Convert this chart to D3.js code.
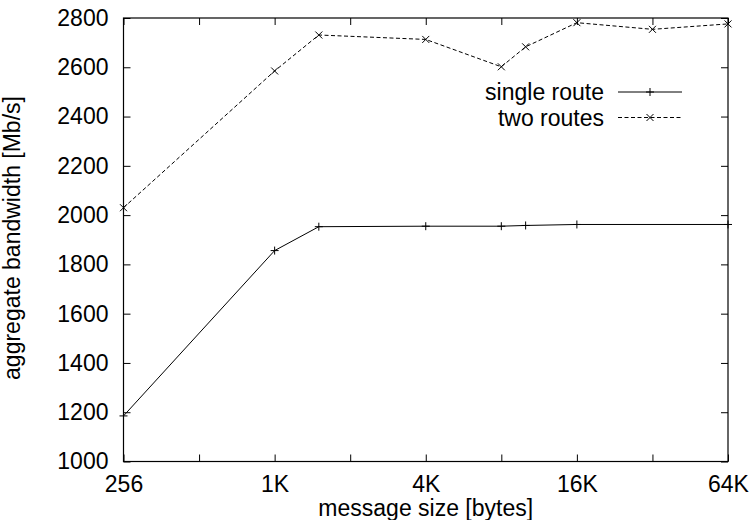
<!DOCTYPE html>
<html>
<head>
<meta charset="utf-8">
<script src="https://cdn.jsdelivr.net/npm/d3@7"></script>
<style>
body { margin: 0; background: #fff; }
text { font-family: "Liberation Sans", Arial, Helvetica, sans-serif; fill: #000; }
</style>
</head>
<body>
<div id="chart"></div>
<script>
// message sizes in bytes, bandwidth in Mb/s
var singleSizes = [256, 1024, 1536, 4096, 8192, 10240, 16384, 65536];
var singleRoute = [1185, 1856, 1953, 1955, 1955, 1958, 1962, 1962];
var twoSizes = [256, 1024, 1536, 4096, 8192, 10240, 16384, 32768, 65536];
var twoRoutes = [2030, 2585, 2731, 2713, 2602, 2683, 2781, 2754, 2776];

var xTicks = [256, 512, 1024, 2048, 4096, 8192, 16384, 32768, 65536];
var xTickLabels = {256: "256", 1024: "1K", 4096: "4K", 16384: "16K", 65536: "64K"};
var yTicks = [1000, 1200, 1400, 1600, 1800, 2000, 2200, 2400, 2600, 2800];

var width = 749, height = 520;
var plotLeft = 123.5, plotRight = 728, plotTop = 18, plotBottom = 461.5;
var fontSize = 23;

var svg = d3.select("#chart").append("svg")
	.attr("width", width)
	.attr("height", height);

var x = d3.scaleLog().base(2).domain([256, 65536]).range([plotLeft, plotRight]);
var y = d3.scaleLinear().domain([1000, 2800]).range([plotBottom, plotTop]);

// axes, ticks pointing inward on all four sides
var xAxis = d3.axisBottom(x).tickValues(xTicks).tickSize(-7).tickPadding(14)
	.tickFormat(function(d) { return xTickLabels[d] || ""; });
var xTop = d3.axisTop(x).tickValues(xTicks).tickSize(-7).tickFormat("");
var yAxis = d3.axisLeft(y).tickValues(yTicks).tickSize(-7).tickPadding(15)
	.tickFormat(d3.format("d"));
var yRight = d3.axisRight(y).tickValues(yTicks).tickSize(-7).tickFormat("");

function styleAxis(g) {
	g.select(".domain").remove();
	g.selectAll(".tick line").attr("stroke", "#000").attr("stroke-width", 1);
	g.selectAll("text").style("font-size", fontSize + "px")
		.style("font-family", "'Liberation Sans', Arial, sans-serif").attr("fill", "#000");
}

svg.append("g").attr("transform", "translate(0," + plotBottom + ")").call(xAxis).call(styleAxis);
svg.append("g").attr("transform", "translate(0," + plotTop + ")").call(xTop).call(styleAxis);
svg.append("g").attr("transform", "translate(" + plotLeft + ",0)").call(yAxis).call(styleAxis);
svg.append("g").attr("transform", "translate(" + plotRight + ",0)").call(yRight).call(styleAxis);

svg.append("rect")
	.attr("x", plotLeft).attr("y", plotTop)
	.attr("width", plotRight - plotLeft).attr("height", plotBottom - plotTop)
	.attr("fill", "none").attr("stroke", "#000").attr("stroke-width", 1.2);

// axis titles
svg.append("text")
	.attr("x", (plotLeft + plotRight) / 2).attr("y", 516)
	.attr("text-anchor", "middle")
	.style("font-size", fontSize + "px")
	.text("message size [bytes]");

svg.append("text")
	.attr("transform", "translate(20,238) rotate(-90)")
	.attr("text-anchor", "middle")
	.style("font-size", fontSize + "px")
	.text("aggregate bandwidth [Mb/s]");

// series
var single = singleSizes.map(function(d, i) { return {x: d, y: singleRoute[i]}; });
var two = twoSizes.map(function(d, i) { return {x: d, y: twoRoutes[i]}; });

var line = d3.line()
	.x(function(d) { return x(d.x); })
	.y(function(d) { return y(d.y); });

svg.append("path").datum(single)
	.attr("d", line)
	.attr("fill", "none").attr("stroke", "#000").attr("stroke-width", 1);

svg.append("path").datum(two)
	.attr("d", line)
	.attr("fill", "none").attr("stroke", "#000").attr("stroke-width", 1)
	.attr("stroke-dasharray", "4,2.5");

function drawPlus(g, px, py) {
	g.append("path")
		.attr("d", "M" + (px - 4) + "," + py + "H" + (px + 4) + "M" + px + "," + (py - 4) + "V" + (py + 4))
		.attr("stroke", "#000").attr("stroke-width", 1).attr("fill", "none");
}
function drawCross(g, px, py) {
	g.append("path")
		.attr("d", "M" + (px - 3.5) + "," + (py - 3.5) + "L" + (px + 3.5) + "," + (py + 3.5) +
			"M" + (px - 3.5) + "," + (py + 3.5) + "L" + (px + 3.5) + "," + (py - 3.5))
		.attr("stroke", "#000").attr("stroke-width", 1).attr("fill", "none");
}

var marks = svg.append("g");
single.forEach(function(d) { drawPlus(marks, x(d.x), y(d.y)); });
two.forEach(function(d) { drawCross(marks, x(d.x), y(d.y)); });

// legend
var legend = svg.append("g");
var legendItems = ["single route", "two routes"];
legendItems.forEach(function(name, i) {
	var ly = 92 + i * 25.5;
	legend.append("text")
		.attr("x", 604).attr("y", ly + 8)
		.attr("text-anchor", "end")
		.style("font-size", fontSize + "px")
		.text(name);
	legend.append("line")
		.attr("x1", 618).attr("x2", 682).attr("y1", ly).attr("y2", ly)
		.attr("stroke", "#000").attr("stroke-width", 1)
		.attr("stroke-dasharray", i == 0 ? null : "4,2.5");
	if (i == 0) drawPlus(legend, 650, ly);
	else drawCross(legend, 650, ly);
});
</script>
</body>
</html>
